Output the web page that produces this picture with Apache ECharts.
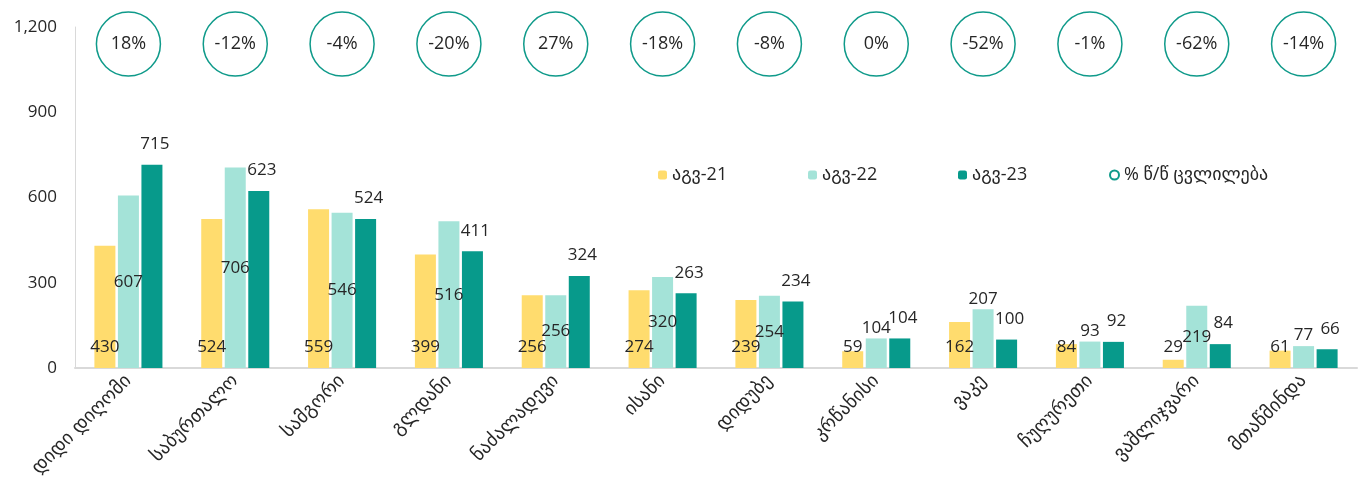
<!DOCTYPE html>
<html>
<head>
<meta charset="utf-8">
<script src="https://cdn.jsdelivr.net/npm/echarts@6/dist/echarts.min.js"></script>
<style>
  html, body { margin: 0; padding: 0; background: #fff; }
  #chart { width: 1365px; height: 490px; }
</style>
</head>
<body>
<div id="chart"></div>
<script>
// Tbilisi districts, August each year
var districts = ['დიდი დიღომი', 'საბურთალო', 'სამგორი', 'გლდანი', 'ნაძალადევი', 'ისანი',
    'დიდუბე', 'კრწანისი', 'ვაკე', 'ჩუღურეთი', 'ვაშლიჯვარი', 'მთაწმინდა'];
var aug21 = [430, 524, 559, 399, 256, 274, 239, 59, 162, 84, 29, 61];
var aug22 = [607, 706, 546, 516, 256, 320, 254, 104, 207, 93, 219, 77];
var aug23 = [715, 623, 524, 411, 324, 263, 234, 104, 100, 92, 84, 66];
var yoyChange = [18, -12, -4, -20, 27, -18, -8, 0, -52, -1, -62, -14];
var seriesNames = ['აგვ-21', 'აგვ-22', 'აგვ-23', '% წ/წ ცვლილება'];
var yTicks = [0, 300, 600, 900, 1200];
var circleLevel = 1140; // the row of bubbles sits near the top of the axis

var font = '"Open Sans", "DejaVu Sans", sans-serif';
var geo = '"DejaVu Sans", sans-serif';
var txt = '#262626';

var chart = echarts.init(document.getElementById('chart'));

function legendAt(name, left) {
    return {
        data: [name],
        left: left,
        top: 161,
        itemWidth: 9,
        itemHeight: 9,
        itemGap: 0,
        textStyle: { fontFamily: font, fontSize: 18, color: txt }
    };
}

// short light bars get their number above the bar instead of inside
var aug22Data = aug22.map(function (v) {
    return v < 215 ? { value: v, label: { position: 'top', distance: 2 } } : v;
});

chart.setOption({
    animation: false,
    legend: [
        legendAt(seriesNames[0], 653),
        legendAt(seriesNames[1], 803),
        legendAt(seriesNames[2], 953),
        legendAt(seriesNames[3], 1104)
    ],
    grid: { left: 75, right: 8, top: 27, bottom: 122 },
    xAxis: {
        type: 'category',
        data: districts,
        axisLine: { lineStyle: { color: '#d9d9d9', width: 2 } },
        axisTick: { show: false },
        axisLabel: {
            rotate: 45, interval: 0, margin: 10,
            fontFamily: geo, fontSize: 19, color: txt
        }
    },
    yAxis: {
        type: 'value',
        min: yTicks[0],
        max: yTicks[yTicks.length - 1],
        interval: yTicks[1] - yTicks[0],
        splitLine: { show: false },
        axisLine: { show: true, lineStyle: { color: '#d9d9d9', width: 1 } },
        axisLabel: {
            margin: 18,
            fontFamily: font, fontSize: 17, color: txt,
            formatter: function (v) { return v.toLocaleString('en-US'); }
        }
    },
    series: [
        {
            name: seriesNames[0],
            type: 'bar',
            data: aug21,
            barWidth: 21,
            barGap: '12%',
            itemStyle: { color: '#ffdc6e' },
            label: {
                show: true, position: 'insideBottom', distance: 12,
                fontFamily: font, fontSize: 17, color: txt
            }
        },
        {
            name: seriesNames[1],
            type: 'bar',
            data: aug22Data,
            barWidth: 21,
            barGap: '12%',
            itemStyle: { color: '#a4e3d8' },
            label: {
                show: true, position: 'inside',
                fontFamily: font, fontSize: 17, color: txt
            }
        },
        {
            name: seriesNames[2],
            type: 'bar',
            data: aug23,
            barWidth: 21,
            barGap: '12%',
            itemStyle: { color: '#079a8b' },
            label: {
                show: true, position: 'top', distance: 12, offset: [3, 0],
                fontFamily: font, fontSize: 17, color: txt
            }
        },
        {
            name: seriesNames[3],
            type: 'scatter',
            data: yoyChange.map(function (p) { return { value: circleLevel, pct: p }; }),
            symbol: 'circle',
            symbolSize: 64,
            itemStyle: { color: '#fff', borderColor: '#0f9a8a', borderWidth: 1.5, opacity: 1 },
            label: {
                show: true, position: 'inside',
                fontFamily: font, fontSize: 18, color: txt,
                formatter: function (p) { return p.data.pct + '%'; }
            },
            z: 5
        }
    ]
});
</script>
</body>
</html>
